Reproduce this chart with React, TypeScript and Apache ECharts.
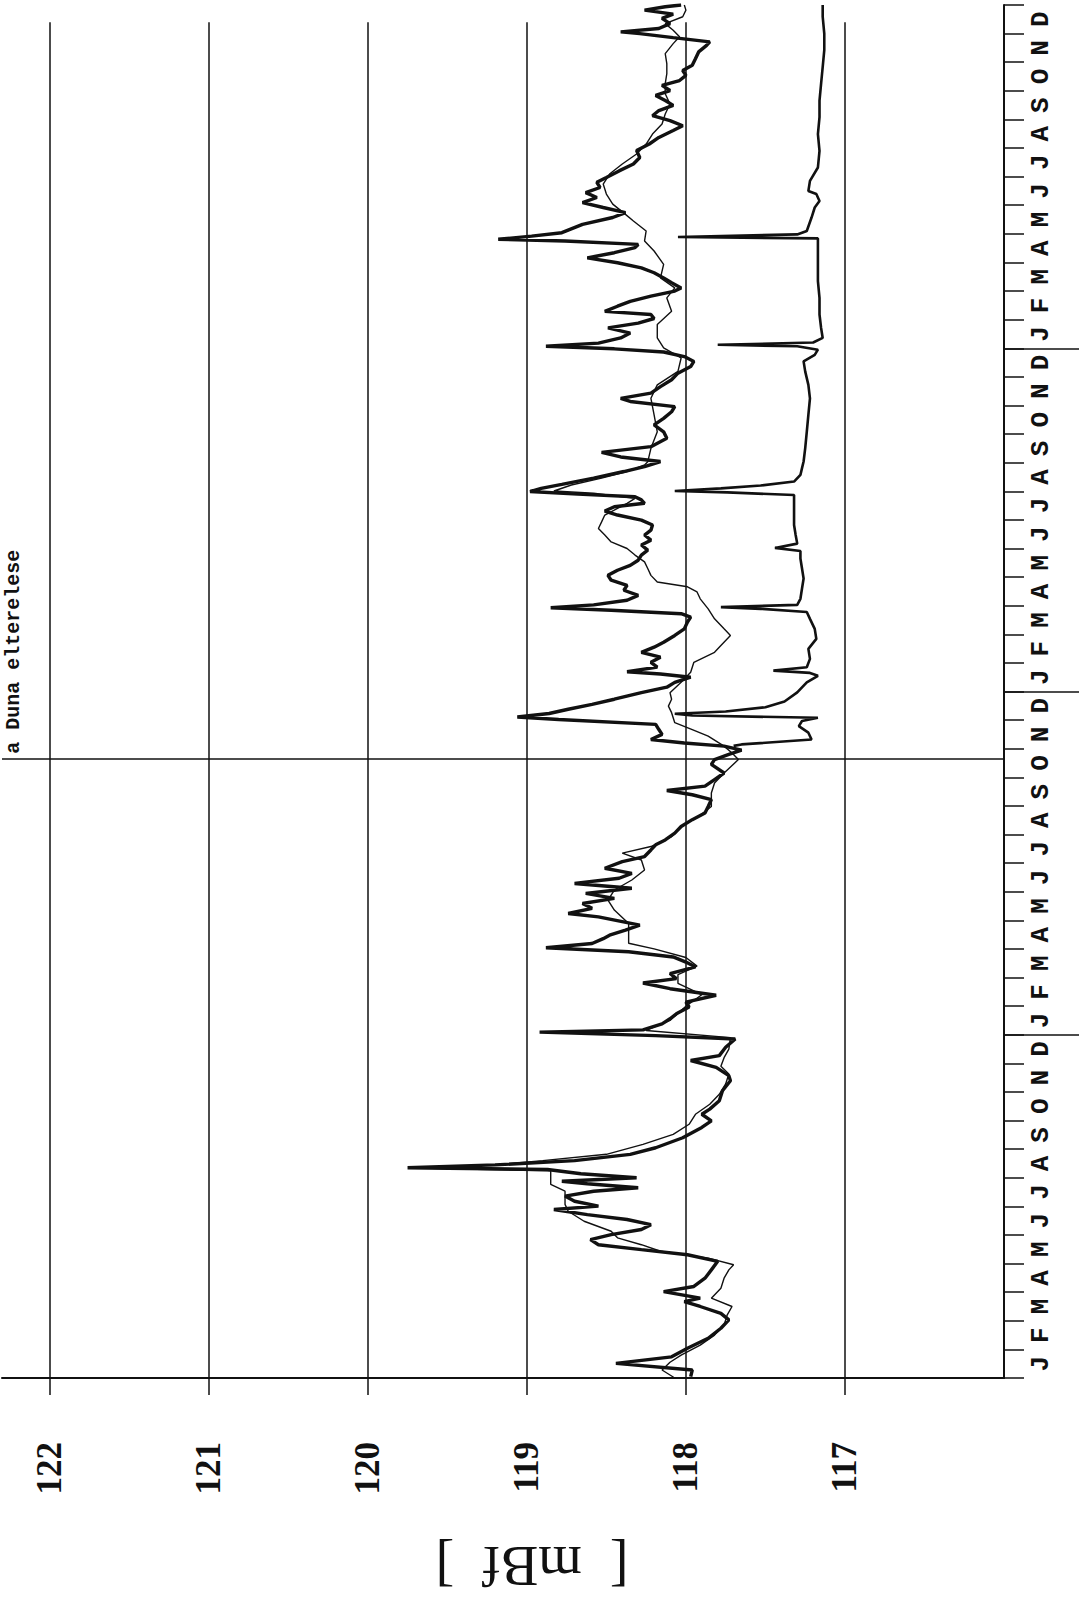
import React, { useEffect, useRef } from "react";
import * as echarts from "echarts";

// ---- labels / axes ----
const MONTHS = ["J", "F", "M", "A", "M", "J", "J", "A", "S", "O", "N", "D"];
const YEARS = [1991, 1992, 1993, 1994];
const LEVEL_TICKS = [117, 118, 119, 120, 121, 122];
const YEAR_BOUNDARIES = [12, 24, 36];
const GRIDLINE_TOP_MONTH = 47.4;
const DIVERSION_MONTH = 21.65; // Oct 1992
const DIVERSION_LABEL = "a Duna elterelese";
const UNIT_LABEL = "[  mBf  ]";

// ---- series A (thick line): time in months since Jan 1991, level in mBf ----
const thickT = [
  0.05, 0.28, 0.51, 0.74, 1.04, 1.39, 1.74, 2.03, 2.26, 2.5, 2.67, 2.79, 3.02, 3.2, 3.49, 3.78, 4.08, 4.31,
  4.49, 4.66, 4.84, 5.01, 5.19, 5.36, 5.54, 5.71, 5.89, 6.01, 6.18, 6.36, 6.53, 6.65, 6.79, 6.88, 7.0, 7.14,
  7.29, 7.35, 7.45, 7.6, 7.82, 8.05, 8.4, 8.76, 8.99, 9.22, 9.4, 9.69, 10.04, 10.39, 10.57, 10.86, 11.1,
  11.27, 11.56, 11.85, 11.97, 12.09, 12.17, 12.38, 12.56, 12.73, 12.97, 13.14, 13.38, 13.61, 13.81, 13.96,
  14.14, 14.37, 14.54, 14.72, 14.9, 15.04, 15.19, 15.36, 15.48, 15.66, 15.83, 16.12, 16.24, 16.42, 16.59,
  16.77, 16.94, 17.12, 17.29, 17.47, 17.64, 17.82, 18.05, 18.23, 18.46, 18.64, 18.81, 19.05, 19.28, 19.52,
  19.75, 19.98, 20.22, 20.39, 20.54, 20.69, 20.92, 21.15, 21.45, 21.62, 21.8, 21.95, 22.09, 22.2, 22.32,
  22.5, 22.67, 22.85, 23.02, 23.11, 23.23, 23.38, 23.55, 23.73, 23.96, 24.15, 24.32, 24.5, 24.61, 24.69,
  24.85, 25.02, 25.2, 25.37, 25.55, 25.72, 25.96, 26.19, 26.43, 26.6, 26.72, 26.84, 26.93, 27.03, 27.19,
  27.36, 27.54, 27.71, 27.89, 28.06, 28.24, 28.41, 28.59, 28.77, 28.94, 29.12, 29.29, 29.47, 29.64, 29.82,
  29.99, 30.17, 30.31, 30.46, 30.58, 30.7, 30.81, 30.9, 30.99, 31.1, 31.24, 31.46, 31.69, 31.86, 32.04,
  32.2, 32.36, 32.56, 32.85, 33.08, 33.32, 33.55, 33.78, 33.96, 34.14, 34.25, 34.43, 34.66, 34.9, 35.13,
  35.36, 35.54, 35.71, 35.87, 35.98, 36.07, 36.18, 36.36, 36.53, 36.71, 36.88, 37.04, 37.18, 37.29, 37.47,
  37.64, 37.82, 38.0, 38.11, 38.29, 38.46, 38.64, 38.81, 38.99, 39.16, 39.34, 39.52, 39.63, 39.75, 39.81,
  39.92, 40.04, 40.33, 40.57, 40.74, 40.92, 41.09, 41.27, 41.44, 41.62, 41.8, 41.97, 42.2, 42.44, 42.67,
  42.91, 43.14, 43.37, 43.61, 43.78, 43.96, 44.13, 44.31, 44.49, 44.66, 44.84, 45.01, 45.19, 45.36, 45.54,
  45.71, 45.89, 46.12, 46.36, 46.59, 46.71, 46.86, 47.0, 47.06, 47.18, 47.35, 47.53, 47.68, 47.82, 47.94, 48.0,
];
const thickV = [
  117.97, 117.96, 118.44, 118.09, 117.99, 117.86, 117.78, 117.73, 117.78, 117.91, 118.01, 117.91, 118.14,
  117.95, 117.88, 117.84, 117.8, 117.99, 118.28, 118.55, 118.6, 118.47, 118.28, 118.22, 118.37, 118.62,
  118.83, 118.55, 118.7, 118.76, 118.58, 118.3, 118.62, 118.78, 118.31, 118.66, 118.87, 119.75, 119.2, 118.7,
  118.35, 118.19, 118.02, 117.9, 117.84, 117.9, 117.85, 117.79, 117.77, 117.72, 117.73, 117.81, 117.97,
  117.79, 117.75, 117.69, 118.19, 118.92, 118.27, 118.15, 118.1, 118.06, 117.98, 118.0, 117.81, 118.1,
  118.27, 118.06, 118.1, 117.94, 118.0, 118.08, 118.36, 118.88, 118.59, 118.52, 118.48, 118.38, 118.29,
  118.55, 118.74, 118.59, 118.65, 118.45, 118.63, 118.34, 118.7, 118.42, 118.34, 118.51, 118.4, 118.26,
  118.22, 118.19, 118.13, 118.07, 118.03, 117.96, 117.88, 117.86, 117.84, 117.96, 118.12, 117.88, 117.82,
  117.76, 117.84, 117.82, 117.73, 117.65, 117.76, 118.01, 118.22, 118.15, 118.17, 118.19, 118.8, 119.06,
  118.86, 118.74, 118.59, 118.45, 118.28, 118.12, 118.07, 117.97, 118.16, 118.37, 118.18, 118.22, 118.16,
  118.28, 118.2, 118.14, 118.07, 118.01, 117.99, 117.97, 118.03, 118.47, 118.85, 118.58, 118.37, 118.3,
  118.39, 118.37, 118.47, 118.49, 118.43, 118.35, 118.3, 118.28, 118.24, 118.28, 118.22, 118.26, 118.22,
  118.21, 118.28, 118.43, 118.51, 118.45, 118.26, 118.28, 118.32, 118.68, 118.98, 118.91, 118.78, 118.58,
  118.39, 118.26, 118.16, 118.41, 118.53, 118.22, 118.12, 118.14, 118.2, 118.14, 118.09, 118.07, 118.35,
  118.41, 118.22, 118.16, 118.09, 118.05, 117.97, 117.95, 118.01, 118.14, 118.45, 118.88, 118.55, 118.41,
  118.35, 118.49, 118.3, 118.2, 118.22, 118.51, 118.43, 118.35, 118.22, 118.07, 118.03, 118.09, 118.14,
  118.2, 118.28, 118.43, 118.62, 118.45, 118.32, 118.3, 118.76, 119.18, 118.97, 118.78, 118.65, 118.46,
  118.38, 118.52, 118.65, 118.56, 118.63, 118.54, 118.56, 118.5, 118.42, 118.33, 118.29, 118.31, 118.23,
  118.17, 118.08, 118.02, 118.1, 118.21, 118.17, 118.08, 118.13, 118.19, 118.1, 118.15, 118.04, 118.0,
  118.02, 117.96, 117.94, 117.92, 117.87, 117.85, 118.08, 118.29, 118.41, 118.17, 118.1, 118.15, 118.08,
  118.26, 118.13, 118.03,
];

// ---- series B (thin line) ----
const thinT = [
  0.0, 0.28, 0.55, 0.8, 1.15, 1.5, 1.85, 2.21, 2.5, 2.79, 3.14, 3.49, 3.78, 3.96, 4.19, 4.43, 4.66, 4.9,
  5.13, 5.48, 5.83, 6.07, 6.53, 6.77, 7.24, 7.33, 7.45, 7.6, 7.82, 8.17, 8.52, 8.87, 9.22, 9.57, 9.92,
  10.28, 10.63, 10.9, 11.2, 11.5, 11.9, 12.15, 12.5, 13.0, 13.4, 13.8, 14.1, 14.4, 14.7, 15.0, 15.2, 15.5,
  15.89, 16.36, 16.71, 17.06, 17.41, 17.76, 18.11, 18.35, 18.58, 18.93, 19.28, 19.63, 19.98, 20.45, 20.8,
  21.15, 21.62, 21.85, 22.09, 22.44, 22.67, 22.91, 23.26, 23.49, 23.73, 23.96, 24.32, 24.67, 25.02, 25.37,
  25.61, 25.96, 26.19, 26.54, 26.89, 27.24, 27.48, 27.66, 27.83, 28.06, 28.3, 28.53, 28.77, 29.0, 29.23,
  29.47, 29.7, 29.93, 30.17, 30.4, 30.58, 30.75, 30.93, 31.01, 31.22, 31.46, 31.69, 31.92, 32.03, 32.5,
  33.08, 33.67, 34.25, 34.72, 35.19, 35.66, 36.01, 36.36, 36.83, 37.29, 37.76, 38.11, 38.46, 38.93, 39.4,
  39.75, 40.1, 40.45, 40.68, 41.04, 41.39, 41.74, 42.09, 42.44, 42.79, 43.14, 43.49, 43.84, 44.19, 44.54,
  44.9, 45.25, 45.6, 45.95, 46.3, 46.65, 46.89, 47.12, 47.35, 47.59, 47.82, 48.0,
];
const thinV = [
  118.07, 118.15, 118.1, 118.03, 117.91, 117.82, 117.76, 117.74, 117.71, 117.84, 117.78, 117.76, 117.73,
  117.7, 117.86, 118.16, 118.28, 118.43, 118.47, 118.64, 118.74, 118.76, 118.76, 118.85, 118.85, 119.6,
  119.2, 118.9, 118.5, 118.27, 118.08, 117.98, 117.94, 117.85, 117.79, 117.75, 117.73, 117.78, 117.76,
  117.73, 117.72, 118.25, 118.1, 118.0, 117.9, 118.05, 118.05, 117.93, 118.0, 118.2, 118.36, 118.36,
  118.36, 118.45, 118.49, 118.45, 118.34, 118.26, 118.28, 118.4, 118.22, 118.09, 118.03, 117.92, 117.84,
  117.84, 117.82, 117.76, 117.67, 117.71, 117.76, 117.86, 117.96, 118.07, 118.09, 118.11, 118.09, 118.1,
  118.03, 117.97, 117.95, 117.82, 117.78, 117.72, 117.76, 117.82, 117.86, 117.91, 117.93, 117.99, 118.18,
  118.22, 118.24, 118.26, 118.32, 118.37, 118.47, 118.51, 118.55, 118.53, 118.51, 118.43, 118.37, 118.32,
  118.58, 118.83, 118.72, 118.53, 118.37, 118.26, 118.24, 118.22, 118.18, 118.2, 118.22, 118.18, 118.05,
  118.03, 118.14, 118.18, 118.18, 118.09, 118.12, 118.07, 118.16, 118.14, 118.2, 118.26, 118.25, 118.33,
  118.38, 118.46, 118.5, 118.52, 118.48, 118.4, 118.31, 118.25, 118.21, 118.15, 118.13, 118.1, 118.13,
  118.13, 118.12, 118.12, 118.13, 118.08, 118.04, 118.08, 118.13, 118.02, 118.0, 118.01,
];

// ---- series C (line starting after the diversion) ----
const thirdT = [
  22.1, 22.15, 22.32, 22.56, 22.79, 22.97, 23.08, 23.16, 23.22, 23.3, 23.45, 23.65, 23.97, 24.32, 24.55,
  24.65, 24.73, 24.85, 25.14, 25.49, 25.84, 26.19, 26.54, 26.78, 26.89, 26.95, 27.03, 27.24, 27.6, 27.95,
  28.3, 28.65, 28.91, 29.02, 29.17, 29.47, 29.82, 30.17, 30.52, 30.87, 30.96, 31.01, 31.1, 31.2, 31.34,
  31.57, 31.81, 32.04, 32.5, 33.08, 33.67, 34.25, 34.72, 35.19, 35.54, 35.77, 35.95, 36.07, 36.12, 36.2,
  36.36, 36.71, 37.18, 37.76, 38.35, 38.93, 39.4, 39.84, 39.89, 39.98, 40.1, 40.57, 40.92, 41.15, 41.39,
  41.5, 41.85, 42.32, 42.9, 43.49, 44.08, 44.66, 45.25, 45.83, 46.42, 47.0, 47.59, 48.0,
];
const thirdV = [
  117.7, 117.65, 117.21, 117.23, 117.29, 117.27, 117.17, 117.96, 118.07, 117.75, 117.5, 117.38, 117.3,
  117.24, 117.17, 117.22, 117.45, 117.24, 117.22, 117.23, 117.18, 117.19, 117.22, 117.24, 117.53, 117.78,
  117.3, 117.28, 117.27, 117.26, 117.27, 117.28, 117.28, 117.44, 117.3, 117.31, 117.32, 117.32, 117.32,
  117.32, 117.74, 118.07, 117.78, 117.53, 117.32, 117.28, 117.27, 117.26, 117.25, 117.24, 117.23, 117.22,
  117.23, 117.25, 117.26, 117.19, 117.17, 117.3, 117.8, 117.2, 117.14, 117.15, 117.16, 117.16, 117.17,
  117.17, 117.17, 117.17, 118.05, 117.3, 117.24, 117.21, 117.19, 117.16, 117.18, 117.23, 117.22, 117.17,
  117.16, 117.17, 117.16, 117.16, 117.15, 117.14, 117.13, 117.13, 117.14, 117.14,
];

const INK = "#111";

function pairs(t: number[], v: number[]) {
  return t.map((tt, i) => [v[i], tt]);
}

export default function App() {
  const ref = useRef<HTMLDivElement>(null);

  useEffect(() => {
    document.body.style.margin = "0";
    if (!ref.current) return;
    const chart = echarts.init(ref.current, undefined, { renderer: "svg" });

    const categories: string[] = [];
    YEARS.forEach((y) => MONTHS.forEach((_, i) => categories.push(`${y}-${i}`)));

    const option: any = {
      animation: false,
      backgroundColor: "#ffffff",
      grid: [
        { left: 2, top: 5, width: 1002, height: 1373 },
        { left: 1004, top: 5, width: 75, height: 1373 },
      ],
      xAxis: [
        {
          type: "value",
          gridIndex: 0,
          inverse: true,
          min: 116,
          max: 122.3,
          interval: 1,
          position: "bottom",
          axisLine: { show: true, lineStyle: { color: INK, width: 2 } },
          axisTick: {
            show: true,
            inside: false,
            length: 17,
            customValues: LEVEL_TICKS,
            lineStyle: { color: INK, width: 1.5 },
          },
          axisLabel: {
            customValues: LEVEL_TICKS,
            rotate: 90,
            margin: 64,
            fontFamily: "Liberation Serif",
            fontSize: 35,
            fontWeight: "bold",
            color: INK,
            formatter: (v: number) => String(v),
          },
          splitLine: { show: false },
        },
        { type: "value", gridIndex: 1, min: 0, max: 1, show: false },
      ],
      yAxis: [
        { type: "value", gridIndex: 0, min: 0, max: 48, show: false },
        {
          type: "category",
          gridIndex: 0,
          position: "right",
          data: categories,
          boundaryGap: true,
          axisLine: { show: true, lineStyle: { color: INK, width: 2 } },
          axisTick: { show: true, interval: 0, length: 20, lineStyle: { color: INK, width: 1.5 } },
          axisLabel: {
            interval: 0,
            rotate: 90,
            margin: 24,
            fontFamily: "Liberation Mono",
            fontWeight: "bold",
            fontSize: 26,
            color: INK,
            formatter: (v: string) => MONTHS[Number(v.split("-")[1])],
          },
          splitLine: { show: false },
        },
        { type: "value", gridIndex: 1, min: 0, max: 48, show: false },
      ],
      series: [
        {
          type: "line",
          name: "grid",
          xAxisIndex: 0,
          yAxisIndex: 0,
          data: [],
          z: 1,
          markLine: {
            silent: true,
            symbol: ["none", "none"],
            label: { show: false },
            lineStyle: { color: INK, width: 1.5, type: "solid" },
            data: [
              ...LEVEL_TICKS.map((v) => [
                { coord: [v, GRIDLINE_TOP_MONTH] },
                { coord: [v, 0] },
              ]),
              { yAxis: DIVERSION_MONTH },
            ],
          },
        },
        {
          type: "line",
          name: "years",
          xAxisIndex: 1,
          yAxisIndex: 2,
          data: [],
          markLine: {
            silent: true,
            symbol: ["none", "none"],
            label: { show: false },
            lineStyle: { color: INK, width: 1.5, type: "solid" },
            data: YEAR_BOUNDARIES.map((m) => ({ yAxis: m })),
          },
        },
        {
          type: "line",
          name: "B",
          xAxisIndex: 0,
          yAxisIndex: 0,
          data: pairs(thinT, thinV),
          showSymbol: false,
          symbol: "none",
          lineStyle: { color: INK, width: 1.4 },
          z: 3,
        },
        {
          type: "line",
          name: "C",
          xAxisIndex: 0,
          yAxisIndex: 0,
          data: pairs(thirdT, thirdV),
          showSymbol: false,
          symbol: "none",
          lineStyle: { color: INK, width: 2.6 },
          z: 4,
        },
        {
          type: "line",
          name: "A",
          xAxisIndex: 0,
          yAxisIndex: 0,
          data: pairs(thickT, thickV),
          showSymbol: false,
          symbol: "none",
          lineStyle: { color: INK, width: 3.4 },
          z: 5,
        },
      ],
    };
    chart.setOption(option);

    const p = chart.convertToPixel({ gridIndex: 0 }, [122, DIVERSION_MONTH]) as number[];
    chart.setOption({
      graphic: [
        {
          type: "text",
          x: 13,
          y: p[1] - 5,
          rotation: Math.PI / 2,
          style: {
            text: DIVERSION_LABEL,
            fill: INK,
            fontSize: 20,
            fontFamily: "Liberation Mono",
            fontWeight: "bold",
            align: "left",
            verticalAlign: "middle",
          },
        },
        {
          type: "text",
          x: 532,
          y: 1566,
          rotation: Math.PI,
          style: {
            text: UNIT_LABEL,
            fill: INK,
            fontSize: 56,
            fontFamily: "Liberation Serif",
            align: "center",
            verticalAlign: "middle",
          },
        },
      ],
    });

    return () => chart.dispose();
  }, []);

  return <div ref={ref} style={{ width: 1079, height: 1600 }} />;
}
